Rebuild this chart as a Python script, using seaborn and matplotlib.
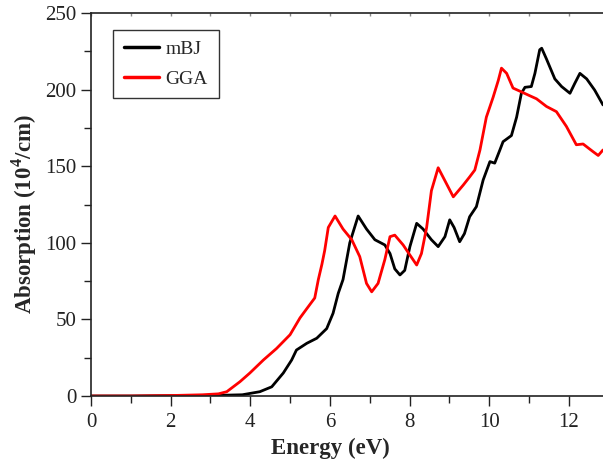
import matplotlib
matplotlib.use("Agg")
import matplotlib.pyplot as plt
import seaborn as sns
import pandas as pd
from matplotlib.ticker import MultipleLocator

# Data
mbj_energy = [0.0, 1.0, 2.0, 3.0, 3.8, 4.24, 4.54, 4.83, 5.04, 5.16, 5.42, 5.67, 5.92, 6.08, 6.21, 6.33,
              6.5, 6.71, 6.92, 7.13, 7.38, 7.51, 7.63, 7.76, 7.88, 8.01, 8.18, 8.34, 8.55, 8.72, 8.89,
              9.01, 9.12, 9.26, 9.38, 9.51, 9.68, 9.85, 10.02, 10.14, 10.27, 10.35, 10.56, 10.69, 10.81,
              10.9, 11.06, 11.15, 11.27, 11.32, 11.44, 11.65, 11.82, 12.03, 12.15, 12.28, 12.45, 12.65, 12.86]
mbj_abs = [0.0, 0.0, 0.2, 0.3, 0.8, 2.8, 6.0, 15.0, 23.5, 30.0, 34.4, 37.7, 44.0, 54.0, 67.0, 76.0,
           100.0, 117.5, 109.0, 102.0, 98.6, 93.0, 83.0, 79.0, 82.0, 97.5, 112.7, 109.0, 102.0, 97.5, 104.0,
           115.0, 110.0, 100.7, 106.0, 117.0, 123.6, 141.0, 153.0, 152.0, 160.6, 166.0, 170.0, 182.0, 197.6,
           201.5, 202.0, 210.6, 226.0, 227.0, 220.0, 207.0, 202.0, 197.6, 204.0, 210.6, 207.0, 199.7, 190.0]

gga_energy = [0.0, 1.0, 2.0, 2.8, 3.2, 3.41, 3.74, 3.99, 4.33, 4.66, 5.0, 5.25, 5.42, 5.62, 5.71, 5.8,
              5.87, 5.96, 6.13, 6.33, 6.55, 6.75, 6.92, 7.05, 7.21, 7.38, 7.51, 7.63, 7.84, 8.01, 8.18,
              8.3, 8.43, 8.55, 8.72, 8.88, 9.1, 9.35, 9.51, 9.64, 9.77, 9.93, 10.1, 10.23, 10.31, 10.44,
              10.6, 10.77, 11.02, 11.19, 11.44, 11.69, 11.94, 12.19, 12.36, 12.61, 12.74, 12.86]
gga_abs = [0.0, 0.0, 0.3, 0.8, 1.4, 2.8, 9.3, 15.0, 23.5, 31.0, 40.0, 51.0, 57.0, 64.0, 76.0, 86.0,
           95.0, 110.0, 117.5, 109.0, 102.0, 91.0, 73.5, 68.0, 73.5, 89.0, 104.0, 105.0, 98.6, 92.0, 85.5,
           93.0, 110.0, 134.0, 149.0, 141.0, 130.0, 137.7, 143.0, 147.5, 160.6, 182.0, 195.0, 206.0, 214.0, 210.6,
           201.0, 199.0, 196.0, 194.0, 189.0, 185.6, 176.0, 164.0, 164.5, 159.5, 157.0, 160.6]

series_names = ["mBJ", "GGA"]
series_colors = ["#000000", "#ff0000"]

df = pd.concat([
    pd.DataFrame({"Energy": mbj_energy, "Absorption": mbj_abs, "Method": series_names[0]}),
    pd.DataFrame({"Energy": gga_energy, "Absorption": gga_abs, "Method": series_names[1]}),
])

sns.set_style("ticks")
plt.rcParams["font.family"] = ["Liberation Serif", "DejaVu Serif"]
plt.rcParams["mathtext.fontset"] = "custom"
plt.rcParams["mathtext.rm"] = "Liberation Serif"
plt.rcParams["mathtext.bf"] = "Liberation Serif:bold"

fig = plt.figure(figsize=(6.03, 4.63), dpi=100)
ax = fig.add_axes([91 / 603, 1 - 396 / 463, 1 - 91 / 603, (396 - 13) / 463])

sns.lineplot(data=df, x="Energy", y="Absorption", hue="Method", palette=series_colors,
             hue_order=series_names, sort=False, estimator=None, linewidth=2.0, ax=ax)
for ln in ax.get_lines():
    ln.set_solid_joinstyle("round")
    ln.set_solid_capstyle("round")

ax.set_xlim(0, 12.86)
ax.set_ylim(0, 250)
ax.xaxis.set_major_locator(MultipleLocator(2))
ax.xaxis.set_minor_locator(MultipleLocator(1))
ax.yaxis.set_major_locator(MultipleLocator(50))
ax.yaxis.set_minor_locator(MultipleLocator(25))
ax.tick_params(axis="both", which="major", direction="out", length=7, width=1.0, labelsize=15,
               colors="#222222", labelcolor="#222222")
ax.tick_params(axis="both", which="minor", direction="out", length=5, width=1.0, colors="#222222")
ax.tick_params(axis="x", which="major", pad=5)
ax.spines["right"].set_visible(False)
for s in ax.spines.values():
    s.set_linewidth(1.2)
    s.set_color("#222222")

# tiny inward ticks on the top spine
sec = ax.secondary_xaxis("top")
sec.xaxis.set_major_locator(MultipleLocator(1))
sec.tick_params(axis="x", which="major", direction="in", length=2, width=1.0, colors="#888888",
                labeltop=False)
sec.spines["top"].set_visible(False)

ax.set_xlabel("Energy (eV)", fontsize=16.5, fontweight="bold")
ax.set_ylabel(r"Absorption (10$^{\mathbf{4}}$/cm)", fontsize=16.5, fontweight="bold")
ax.xaxis.set_label_coords((330 - 91) / 512, -0.108)
ax.yaxis.set_label_coords(-0.102, (396 - 214) / 383)

leg = ax.legend(title=None, loc="upper left", bbox_to_anchor=(113 / 603, 433 / 463),
                bbox_transform=fig.transFigure, borderaxespad=0, fontsize=14,
                frameon=True, fancybox=False, edgecolor="black", handlelength=1.8,
                borderpad=0.55, labelspacing=0.6, handletextpad=0.35)
leg.get_frame().set_linewidth(1.0)
for line in leg.get_lines():
    line.set_linewidth(2.5)

fig.savefig("out.png", dpi=100)
